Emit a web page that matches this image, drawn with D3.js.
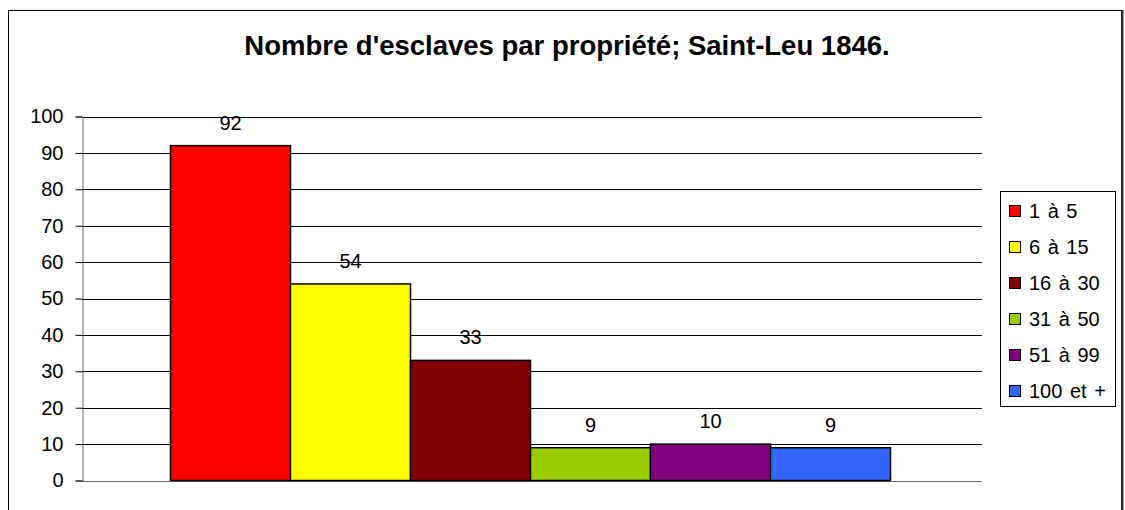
<!DOCTYPE html>
<html>
<head>
<meta charset="utf-8">
<script src="https://cdn.jsdelivr.net/npm/d3@7"></script>
<style>
  html, body { margin: 0; padding: 0; background: #fff; }
  svg { display: block; font-family: "Liberation Sans", Arial, sans-serif; }
</style>
</head>
<body>
<svg id="chart" width="1125" height="510"></svg>
<script>
// Number of slaves per property, Saint-Leu 1846
const title = "Nombre d'esclaves par propriété; Saint-Leu 1846.";
const seriesNames = ["1 à 5", "6 à 15", "16 à 30", "31 à 50", "51 à 99", "100 et +"];
const seriesValues = [92, 54, 33, 9, 10, 9];
const seriesColors = ["#ff0000", "#ffff00", "#800000", "#99cc00", "#800080", "#3366ff"];
const yTicks = [0, 10, 20, 30, 40, 50, 60, 70, 80, 90, 100];

const svg = d3.select("#chart");

// Outer frame
svg.append("rect")
  .attr("x", 8.5).attr("y", 10.5)
  .attr("width", 1113).attr("height", 510)
  .attr("fill", "#fff").attr("stroke", "#000").attr("stroke-width", 1);
svg.append("line")
  .attr("x1", 1122.5).attr("x2", 1122.5).attr("y1", 10).attr("y2", 510)
  .attr("stroke", "#333").attr("stroke-width", 2);

// Title
svg.append("text")
  .attr("x", 567).attr("y", 55)
  .attr("text-anchor", "middle")
  .attr("font-weight", "bold")
  .attr("font-size", 27.5)
  .attr("fill", "#000")
  .text(title);

// Plot area
const plot = { left: 82, right: 982, top: 116.5, bottom: 480.5 };

const y = d3.scaleLinear().domain([0, 100]).range([plot.bottom, plot.top]);

// One category holding six adjacent series bars, gap of 1.5 bar widths
const outer = d3.scaleBand().domain(["all"]).range([plot.left - 1.5, plot.right - 1.5]).paddingInner(0).paddingOuter(0.125);
const x = d3.scaleBand().domain(seriesNames)
  .range([outer("all"), outer("all") + outer.bandwidth()]).padding(0);

// Gridlines
svg.append("g")
  .selectAll("line")
  .data(yTicks.filter(d => d > 0))
  .join("line")
  .attr("x1", plot.left).attr("x2", plot.right)
  .attr("y1", d => Math.round(y(d)) + 0.5).attr("y2", d => Math.round(y(d)) + 0.5)
  .attr("stroke", "#000").attr("stroke-width", 1);

// Y axis
const yAxis = d3.axisLeft(y).tickValues(yTicks).tickSize(7).tickPadding(12);
const gy = svg.append("g")
  .attr("transform", `translate(${plot.left + 0.5},0)`)
  .call(yAxis);
gy.select(".domain").attr("stroke", "#666");
gy.selectAll(".tick line").attr("stroke", "#000");
gy.selectAll(".tick text")
  .attr("font-size", 20)
  .attr("font-family", "Liberation Sans, Arial, sans-serif")
  .attr("fill", "#000");

// Baseline
svg.append("line")
  .attr("x1", plot.left).attr("x2", plot.right)
  .attr("y1", Math.round(y(0)) + 0.5).attr("y2", Math.round(y(0)) + 0.5)
  .attr("stroke", "#666").attr("stroke-width", 1);

// Bars
svg.append("g")
  .selectAll("rect")
  .data(seriesNames)
  .join("rect")
  .attr("x", d => x(d))
  .attr("y", (d, i) => y(seriesValues[i]))
  .attr("width", x.bandwidth())
  .attr("height", (d, i) => y(0) - y(seriesValues[i]))
  .attr("fill", (d, i) => seriesColors[i])
  .attr("stroke", "#000").attr("stroke-width", 1.5);

// Value labels
svg.append("g")
  .selectAll("text")
  .data(seriesNames)
  .join("text")
  .attr("x", d => x(d) + x.bandwidth() / 2)
  .attr("y", (d, i) => y(seriesValues[i]) - 16)
  .attr("text-anchor", "middle")
  .attr("font-size", 20)
  .attr("fill", "#000")
  .text((d, i) => seriesValues[i]);

// Legend
const legend = svg.append("g");
legend.append("rect")
  .attr("x", 1000.5).attr("y", 191.5)
  .attr("width", 115).attr("height", 215)
  .attr("fill", "#fff").attr("stroke", "#000").attr("stroke-width", 1);
const rows = legend.selectAll("g.item")
  .data(seriesNames)
  .join("g")
  .attr("class", "item")
  .attr("transform", (d, i) => `translate(1009, ${211 + i * 36})`);
rows.append("rect")
  .attr("x", 0.5).attr("y", -5.5)
  .attr("width", 11).attr("height", 11)
  .attr("fill", (d, i) => seriesColors[i])
  .attr("stroke", "#000").attr("stroke-width", 1);
rows.append("text")
  .attr("x", 20).attr("y", 7)
  .attr("font-size", 20)
  .attr("word-spacing", 2)
  .attr("fill", "#000")
  .text(d => d);
</script>
</body>
</html>
